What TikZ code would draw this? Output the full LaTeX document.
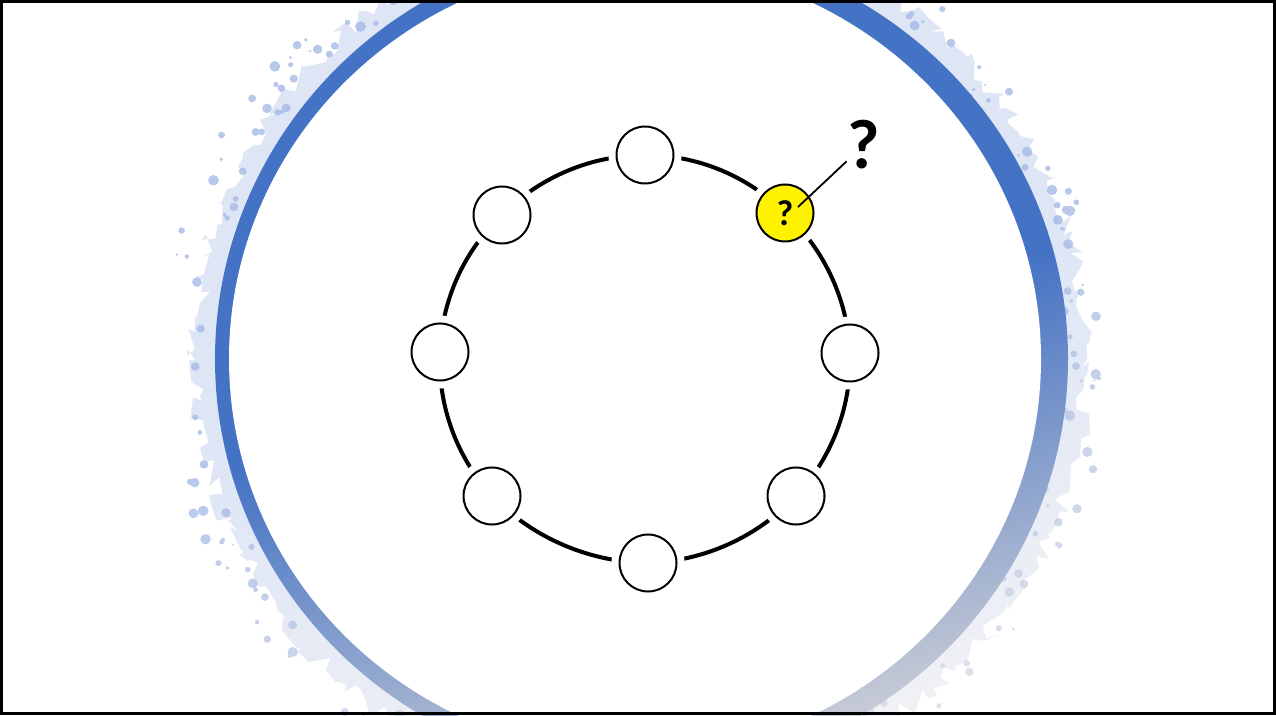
\documentclass[tikz,border=0pt]{standalone}
\usepackage{fontspec}
\newfontfamily\qfont{Carlito}
\usetikzlibrary{positioning,decorations.pathmorphing}
\definecolor{ringblue}{RGB}{68,114,196}
\definecolor{ringgray}{RGB}{205,207,214}
\definecolor{splashblue}{RGB}{160,182,228}
\definecolor{splashgray}{RGB}{218,220,226}
\definecolor{qyellow}{RGB}{255,242,0}
\pgfdeclarelayer{back}
\pgfdeclarelayer{arcs}
\pgfsetlayers{back,arcs,main}

\begin{document}
\begin{tikzpicture}[x=1pt, y=1pt,
	spot/.style={circle, draw=black, line width=2pt, fill=white, minimum size=57pt, inner sep=0pt,
		preaction={draw=white, line width=16pt}},
	hot/.style={spot, fill=qyellow},
	ring/.style={line width=4pt, looseness=0.885},
	lead/.style={line width=1.8pt},
	qmark/.style={font=\qfont\bfseries\fontsize{#1}{#1}\selectfont, inner sep=1pt},
	band/.style={top color=ringblue, bottom color=ringgray, middle color=ringblue, shading angle=15},
	splash/.style={top color=splashblue, bottom color=splashgray, middle color=splashblue, shading angle=15}
	]
	
	\useasboundingbox (0,0) rectangle (1276,715);
	\pgfmathsetseed{11}
	
	% painted ring behind the white disc
	\begin{pgfonlayer}{back}
		\clip (0,0) rectangle (1276,715);
		\begin{scope}[shift={(635,356)}, yscale=0.975]
			\begin{scope}
				\clip[decorate, decoration={random steps, segment length=7pt, amplitude=10pt}] (6,0) circle (446);
				\shade[splash, opacity=0.35] (0,0) circle (480);
			\end{scope}
			\begin{scope}
				\clip \foreach \k [evaluate=\k as \ang using rnd*360, evaluate=\k as \rr using 428+rnd*45, evaluate=\k as \sz using 1+rnd*4.5] in {1,...,220} {(\ang:\rr) circle (\sz)};
				\shade[splash, opacity=0.75] (0,0) circle (490);
			\end{scope}
			\shade[band] (6.5,0) circle (426.5);
			\fill[white] (0,0) circle (406);
		\end{scope}
	\end{pgfonlayer}
	
	% circle of seats
	\node[spot] (s1) at (645,560) {};
	\node[hot, qmark=36] (s2) at (785,502) {?};
	\node[spot] (s3) at (850,362) {};
	\node[spot] (s4) at (796,219) {};
	\node[spot] (s5) at (648,152) {};
	\node[spot] (s6) at (492,219) {};
	\node[spot] (s7) at (440,363) {};
	\node[spot] (s8) at (502,500) {};
	
	\begin{pgfonlayer}{arcs}
		\draw[ring] (s1.center) to[bend left=22.5] (s2.center);
		\draw[ring] (s2.center) to[bend left=22.5] (s3.center);
		\draw[ring] (s3.center) to[bend left=22.5] (s4.center);
		\draw[ring] (s4.center) to[bend left=22.5] (s5.center);
		\draw[ring] (s5.center) to[bend left=22.5] (s6.center);
		\draw[ring] (s6.center) to[bend left=22.5] (s7.center);
		\draw[ring] (s7.center) to[bend left=22.5] (s8.center);
		\draw[ring] (s8.center) to[bend left=22.5] (s1.center);
	\end{pgfonlayer}
	
	\node[qmark=70] (qbig) at (864,570) {?};
	\coordinate (tip) at (798,508);
	\draw[lead] (tip) -- (qbig);
	
	\draw[line width=3pt] (1.5,1.5) rectangle (1274.5,713.5);
	
\end{tikzpicture}
\end{document}
